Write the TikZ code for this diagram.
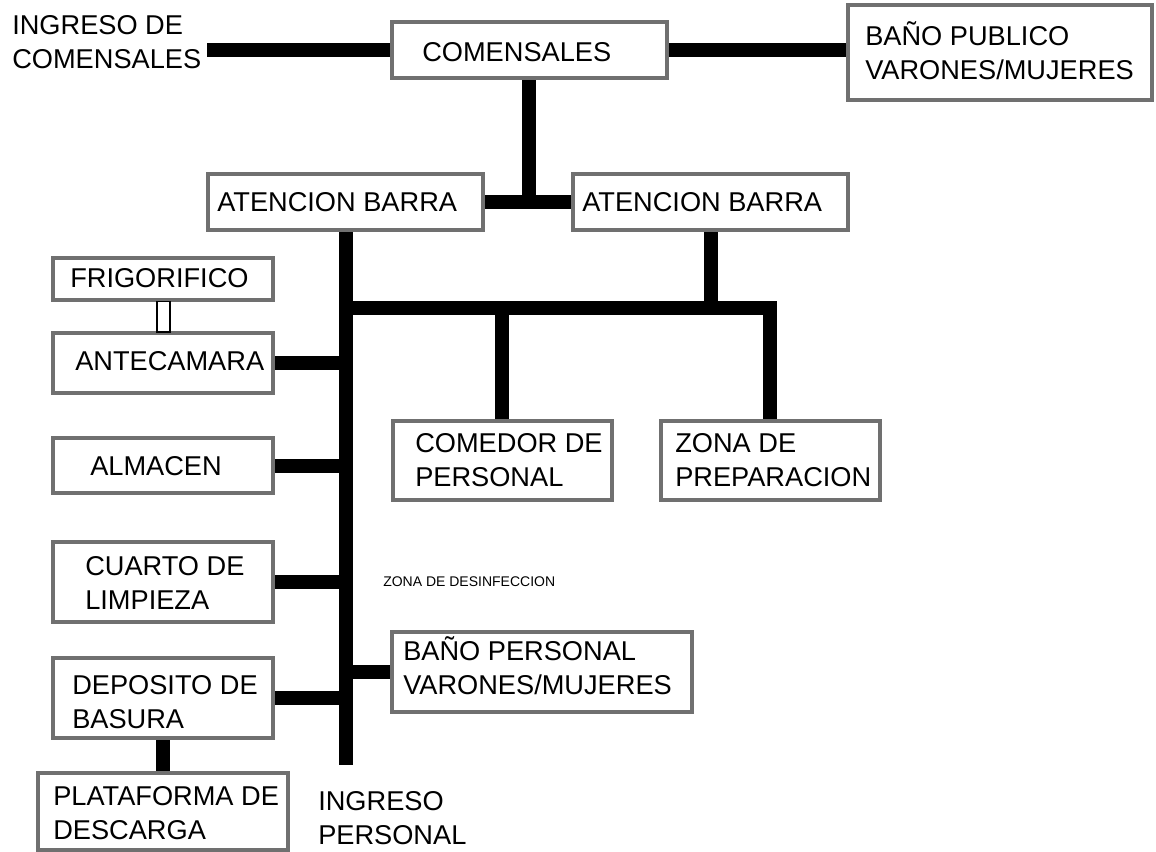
\documentclass[tikz,border=0pt]{standalone}
\usepackage{fontspec}
\setmainfont{Liberation Sans}
\usetikzlibrary{fit,backgrounds}
\definecolor{boxgray}{RGB}{112,112,112}
\begin{document}
\begin{tikzpicture}[x=0.75pt,y=-0.75pt,
  box/.style={draw=boxgray, line width=2.8pt, fill=white, inner sep=0pt},
  lbl/.style={inner sep=0pt, anchor=west, align=left, font=\fontsize{20.4pt}{25.5pt}\selectfont},
  small/.style={inner sep=0pt, anchor=west, font=\fontsize{10.5pt}{12pt}\selectfont},
  conn/.style={line width=10.5pt, black},
  door/.style={draw=black, line width=0.9pt, fill=white, inner sep=0pt}]
\useasboundingbox (0,0) rectangle (1156,852);

% boxes
\node[box, fit={(392,22) (667,78)}] (com) {};
\node[box, fit={(848,5) (1152,100)}] (bpub) {};
\node[box, fit={(208,174) (483,230)}] (ab1) {};
\node[box, fit={(573,174) (848,230)}] (ab2) {};
\node[box, fit={(53,258) (273,300)}] (frig) {};
\node[box, fit={(53,333) (273,393)}] (ante) {};
\node[box, fit={(53,438) (273,493)}] (alm) {};
\node[box, fit={(53,542) (273,622)}] (cuarto) {};
\node[box, fit={(53,658) (273,738)}] (dep) {};
\node[box, fit={(38,773) (288,850)}] (plat) {};
\node[box, fit={(393,421) (612,500)}] (comedor) {};
\node[box, fit={(661,421) (880,500)}] (zona) {};
\node[box, fit={(392,632) (692,712)}] (bper) {};

% small door between frigorifico and antecamara
\node[door, fit={(157,301.5) (170,332)}] (door) {};

% texts
\node[lbl] (ingc) at (12,42) {INGRESO DE\\COMENSALES};
\node[lbl] (com-t) at (422,52) {COMENSALES};
\node[lbl] (bpub-t) at (865,53.5) {BA\smash{Ñ}O PUBLICO\\VARONES/MUJERES};
\node[lbl] (ab1-t) at (217,202) {ATENCION BARRA};
\node[lbl] (ab2-t) at (582,202) {ATENCION BARRA};
\node[lbl] (frig-t) at (70,278) {FRIGORIFICO};
\node[lbl] (ante-t) at (75,361) {ANTECAMARA};
\node[lbl] (alm-t) at (90,466) {ALMACEN};
\node[lbl] (cuarto-t) at (85,582.5) {CUARTO DE\\LIMPIEZA};
\node[lbl] (dep-t) at (72,702) {DEPOSITO DE\\BASURA};
\node[lbl] (plat-t) at (53,813) {PLATAFORMA DE\\DESCARGA};
\node[lbl] (comedor-t) at (415,460.5) {COMEDOR DE\\PERSONAL};
\node[lbl] (zona-t) at (675,460.5) {ZONA DE\\PREPARACION};
\node[lbl] (bper-t) at (403,668) {BA\smash{Ñ}O PERSONAL\\VARONES/MUJERES};
\node[small] (desinf) at (383,582) {ZONA DE DESINFECCION};
\node[lbl] (ingp) at (318,818.5) {INGRESO\\PERSONAL};

% junction coordinates
\coordinate (ingc-end) at (207,50);
\coordinate (j1) at (529,202);
\coordinate (k1) at (346,308);
\coordinate (k2) at (770,308);
\coordinate (k3) at (711,308);
\coordinate (k4) at (502,308);
\coordinate (k5) at (163,738);
\coordinate (ingp-top) at (346,765);

% connectors
\begin{scope}[on background layer]
\draw[conn] (ingc-end) -- (com.west);
\draw[conn] (com.east) -- (com.east -| bpub.west);
\draw[conn] (j1 |- com.south) -- (j1);
\draw[conn] (ab1.east) -- (ab2.west);
\draw[conn] (ingp-top |- ab1.south) -- (ingp-top);
\draw[conn] (k1) -- (k2) -- (k2 |- zona.north);
\draw[conn] (k3 |- ab2.south) -- (k3);
\draw[conn] (k4) -- (k4 |- comedor.north);
\draw[conn] (ante.east) -- (ante.east -| k1);
\draw[conn] (alm.east) -- (alm.east -| k1);
\draw[conn] (cuarto.east) -- (cuarto.east -| k1);
\draw[conn] (dep.east) -- (dep.east -| k1);
\draw[conn] (bper.west -| k1) -- (bper.west);
\draw[conn] (k5 |- dep.south) -- (k5 |- plat.north);
\end{scope}
\end{tikzpicture}
\end{document}
